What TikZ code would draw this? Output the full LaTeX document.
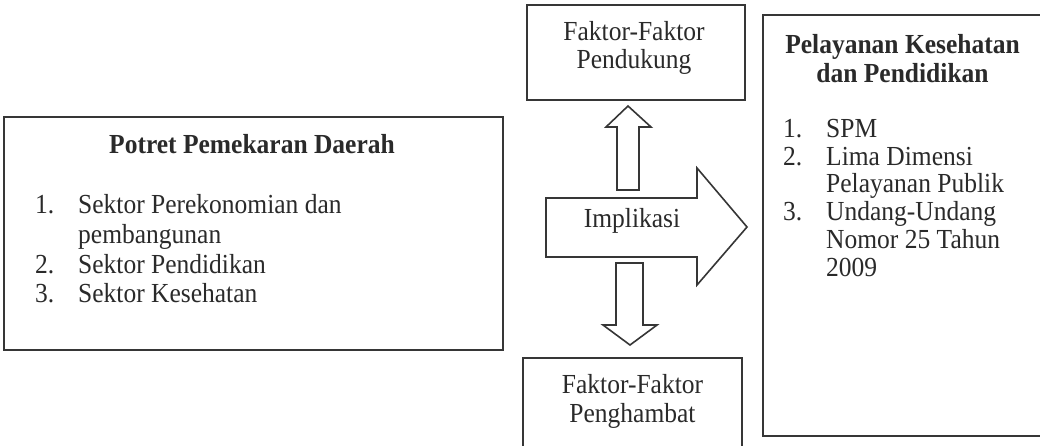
\documentclass[tikz,border=0pt]{standalone}
\usepackage{fontspec}
\usepackage{graphicx}
\setmainfont{Liberation Serif}
\definecolor{ink}{HTML}{2A2A2A}
\definecolor{edge}{HTML}{363636}
\newcommand{\talltext}[1]{\scalebox{1}[1.08]{#1}}
\begin{document}
\begin{tikzpicture}[x=1pt,y=-1pt]
\tikzset{
  box/.style={draw=edge,line width=1.6pt,inner sep=0pt,rectangle},
  txt/.style={text=ink,font=\fontsize{25.5}{30}\selectfont,inner sep=0pt},
  btxt/.style={txt,font=\fontsize{25.5}{30}\selectfont\bfseries},
  blockarrow/.style={draw=edge,line width=1.6pt,line join=miter,fill=white}
}
\fill[white] (0,0) rectangle (1040,445);
\useasboundingbox (0,0) rectangle (1040,445);

% boxes
\node[box,minimum width=499pt,minimum height=233pt] (lbox) at (253.5,233.5) {};
\node[box,minimum width=218pt,minimum height=95pt] (tbox) at (636,52.5) {};
\node[box,minimum width=219pt,minimum height=102pt] (bbox) at (632.5,409) {};
\node[box,minimum width=287pt,minimum height=421pt] (rbox) at (906.5,225.5) {};

% left box text
\node[btxt,anchor=base] (ltitle) at (252,153) {\talltext{Potret Pemekaran Daerah}};
\node[txt,anchor=base west] (ln1) at (35,213) {\talltext{1.}};
\node[txt,anchor=base west] (lt1) at (78,213) {\talltext{Sektor Perekonomian dan}};
\node[txt,anchor=base west] (lt1b) at (78,243) {\talltext{pembangunan}};
\node[txt,anchor=base west] (ln2) at (35,273) {\talltext{2.}};
\node[txt,anchor=base west] (lt2) at (78,273) {\talltext{Sektor Pendidikan}};
\node[txt,anchor=base west] (ln3) at (35,302) {\talltext{3.}};
\node[txt,anchor=base west] (lt3) at (78,302) {\talltext{Sektor Kesehatan}};

% top box text
\node[txt,anchor=base] (tt1) at (634,40) {\talltext{Faktor-Faktor}};
\node[txt,anchor=base] (tt2) at (634,68) {\talltext{Pendukung}};

% bottom box text
\node[txt,anchor=base] (bt1) at (632.5,393) {\talltext{Faktor-Faktor}};
\node[txt,anchor=base] (bt2) at (632.5,422) {\talltext{Penghambat}};

% right box text
\node[btxt,anchor=base] (rtitle1) at (902.5,53) {\talltext{Pelayanan Kesehatan}};
\node[btxt,anchor=base] (rtitle2) at (902.5,82) {\talltext{dan Pendidikan}};
\node[txt,anchor=base west] (rn1) at (783,137) {\talltext{1.}};
\node[txt,anchor=base west] (rt1) at (826,137) {\talltext{SPM}};
\node[txt,anchor=base west] (rn2) at (783,165) {\talltext{2.}};
\node[txt,anchor=base west] (rt2) at (826,165) {\talltext{Lima Dimensi}};
\node[txt,anchor=base west] (rt2b) at (826,192) {\talltext{Pelayanan Publik}};
\node[txt,anchor=base west] (rn3) at (783,220) {\talltext{3.}};
\node[txt,anchor=base west] (rt3) at (826,220) {\talltext{Undang-Undang}};
\node[txt,anchor=base west] (rt3b) at (826,248) {\talltext{Nomor 25 Tahun}};
\node[txt,anchor=base west] (rt3c) at (826,276) {\talltext{2009}};

% up arrow
\draw[blockarrow] (617,190) -- (617,127) -- (606,127) -- (628,106) -- (651,127) -- (639,127) -- (639,190) -- cycle;
% down arrow
\draw[blockarrow] (616,263) -- (643,263) -- (643,325) -- (657,325) -- (630,345) -- (603,325) -- (616,325) -- cycle;
% right arrow (Implikasi)
\draw[blockarrow] (546,198) -- (697,198) -- (697,168) -- (747,227) -- (697,285) -- (697,257) -- (546,257) -- cycle;
\node[txt,anchor=base] (impl) at (632,227) {\talltext{Implikasi}};
\end{tikzpicture}
\end{document}
